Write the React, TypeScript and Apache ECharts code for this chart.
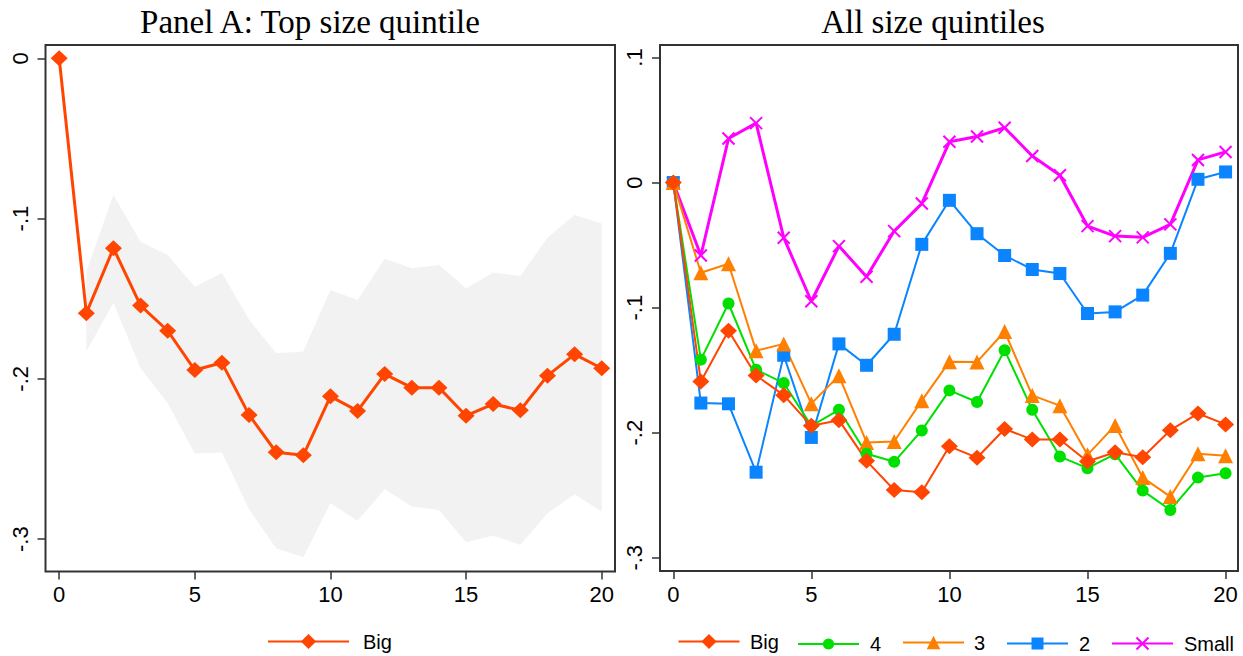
import React, { useEffect, useRef } from "react";
import * as echarts from "echarts";

// Horizons (x axis)
const horizons = [0, 1, 2, 3, 4, 5, 6, 7, 8, 9, 10, 11, 12, 13, 14, 15, 16, 17, 18, 19, 20];
const xTicks = [0, 5, 10, 15, 20];
const yTicksLeft = [0, -0.1, -0.2, -0.3];
const yTicksRight = [0.1, 0, -0.1, -0.2, -0.3];

// Panel A: top size quintile, with confidence band (band runs from horizon 1)
const bigValues = [0, -0.159, -0.1185, -0.1543, -0.170, -0.1945, -0.190, -0.2225, -0.2458, -0.2477, -0.2109, -0.220, -0.197, -0.2055, -0.2055, -0.223, -0.2157, -0.2196, -0.198, -0.1847, -0.1934];
const bandHorizons = [1, 2, 3, 4, 5, 6, 7, 8, 9, 10, 11, 12, 13, 14, 15, 16, 17, 18, 19, 20];
const bandUpper = [-0.133, -0.0853, -0.1144, -0.1227, -0.1425, -0.134, -0.163, -0.184, -0.183, -0.1446, -0.1508, -0.125, -0.131, -0.129, -0.1435, -0.1337, -0.1358, -0.112, -0.0978, -0.103];
const bandLower = [-0.183, -0.1525, -0.1934, -0.2153, -0.2465, -0.246, -0.2814, -0.3057, -0.3113, -0.2776, -0.2886, -0.2689, -0.2797, -0.2818, -0.302, -0.2978, -0.3036, -0.2839, -0.272, -0.2828];

// All size quintiles
const q4Values = [0, -0.1416, -0.0967, -0.1496, -0.1603, -0.1945, -0.1817, -0.2169, -0.2233, -0.1982, -0.1662, -0.1755, -0.1341, -0.1817, -0.2191, -0.2284, -0.2172, -0.2463, -0.2618, -0.2359, -0.2324];
const q3Values = [0, -0.0721, -0.0649, -0.1344, -0.129, -0.1768, -0.1544, -0.2078, -0.207, -0.1744, -0.1432, -0.1434, -0.1191, -0.1702, -0.1784, -0.2177, -0.1942, -0.2359, -0.2511, -0.2169, -0.2185];
const q2Values = [0, -0.1763, -0.1769, -0.2316, -0.1381, -0.2038, -0.129, -0.1461, -0.1213, -0.0494, -0.0142, -0.0409, -0.0583, -0.0695, -0.0727, -0.1047, -0.1034, -0.090, -0.0566, 0.0026, 0.0085];
const smallValues = [0, -0.0583, 0.0352, 0.0475, -0.0441, -0.0949, -0.0508, -0.0753, -0.0388, -0.0168, 0.0326, 0.0369, 0.0438, 0.0213, 0.0058, -0.0348, -0.0428, -0.0438, -0.0334, 0.0181, 0.0245];

const C_BIG = "#ff4500";
const C_Q4 = "#00e000";
const C_Q3 = "#ff8000";
const C_Q2 = "#0a84ff";
const C_SMALL = "#ff00ff";
const FRAME = "#333333";
const SANS = "Liberation Sans, Arial, sans-serif";
const SERIF = "Liberation Serif, Times New Roman, serif";

const pairs = (xs: number[], ys: number[]) => xs.map((x, i) => [x, ys[i]]);

const fmtY = (v: number) => {
  const r = Math.round(v * 10) / 10;
  if (r === 0) return "0";
  return String(r).replace("0.", ".");
};

const xAxisBase = (gridIndex: number, min: number, max: number) => ({
  type: "value",
  gridIndex,
  min,
  max,
  position: "bottom",
  axisLine: { show: false, onZero: false },
  splitLine: { show: false },
  axisTick: {
    show: true,
    length: 8,
    customValues: xTicks,
    lineStyle: { color: FRAME, width: 1.5 },
  },
  axisLabel: {
    show: true,
    customValues: xTicks,
    margin: 12,
    fontSize: 22,
    fontFamily: SANS,
    color: "#000",
  },
});

const yAxisBase = (gridIndex: number, min: number, max: number, ticks: number[]) => ({
  type: "value",
  gridIndex,
  min,
  max,
  position: "left",
  axisLine: { show: false, onZero: false },
  splitLine: { show: false },
  axisTick: {
    show: true,
    length: 8,
    customValues: ticks,
    lineStyle: { color: FRAME, width: 1.5 },
  },
  axisLabel: {
    show: true,
    customValues: ticks,
    rotate: 90,
    margin: 14.5,
    fontSize: 22,
    fontFamily: SANS,
    color: "#000",
    formatter: (v: number) => fmtY(v),
  },
});

const lineSeries = (
  name: string,
  xi: number,
  data: number[][],
  color: string,
  width: number,
  symbol: string,
  symbolSize: number | number[],
  extraItem: any = {}
) => ({
  type: "line",
  name,
  xAxisIndex: xi,
  yAxisIndex: xi,
  data,
  symbol,
  symbolSize,
  showAllSymbol: true,
  lineStyle: { color, width },
  itemStyle: { color, ...extraItem },
  z: 3,
});

const legendItem = (
  name: string,
  left: number,
  itemWidth: number,
  itemHeight: number,
  pad: number,
  label: string
) => ({
  data: [name],
  left,
  top: 641 - itemHeight / 2,
  orient: "horizontal",
  padding: 0,
  itemWidth,
  itemHeight,
  selectedMode: false,
  formatter: () => label,
  textStyle: {
    fontSize: 20,
    fontFamily: SANS,
    color: "#000",
    padding: [0, 0, 0, pad],
  },
});

const X_PATH = "path://M0,0L10,10M10,0L0,10";

export default function App() {
  const ref = useRef<HTMLDivElement>(null);

  useEffect(() => {
    if (!ref.current) return;
    const chart = echarts.init(ref.current, undefined, { renderer: "svg" });
    const bandData = bandHorizons.map((h, i) => [h, bandLower[i], bandUpper[i]]);
    const option: any = {
      animation: false,
      backgroundColor: "#ffffff",
      graphic: [
        {
          type: "text",
          x: 310,
          y: 22,
          style: {
            text: "Panel A: Top size quintile",
            fontSize: 33,
            fontFamily: SERIF,
            fill: "#000",
            align: "center",
            verticalAlign: "middle",
          },
        },
        {
          type: "text",
          x: 933,
          y: 22,
          style: {
            text: "All size quintiles",
            fontSize: 33,
            fontFamily: SERIF,
            fill: "#000",
            align: "center",
            verticalAlign: "middle",
          },
        },
      ],
      grid: [
        {
          left: 45.5,
          top: 45,
          width: 569.5,
          height: 526.5,
          show: true,
          borderColor: FRAME,
          borderWidth: 2,
          backgroundColor: "transparent",
        },
        {
          left: 660,
          top: 45,
          width: 578,
          height: 526,
          show: true,
          borderColor: FRAME,
          borderWidth: 2,
          backgroundColor: "transparent",
        },
      ],
      xAxis: [xAxisBase(0, -0.505, 20.49), xAxisBase(1, -0.48, 20.45)],
      yAxis: [
        yAxisBase(0, -0.3202, 0.0083, yTicksLeft),
        yAxisBase(1, -0.3106, 0.110, yTicksRight),
      ],
      legend: [
        legendItem("Big", 267, 81, 19, 9, "Big"),
        legendItem("Big (all)", 677.5, 61, 19, 5.5, "Big"),
        legendItem("4", 797, 61, 14, 6, "4"),
        legendItem("3", 902, 61, 17, 5, "3"),
        legendItem("2", 1006, 61, 15, 6, "2"),
        legendItem("Small", 1111, 61, 15, 6, "Small"),
      ],
      series: [
        {
          type: "custom",
          name: "ci",
          xAxisIndex: 0,
          yAxisIndex: 0,
          data: bandData,
          encode: { x: 0, y: [1, 2] },
          silent: true,
          z: 1,
          renderItem: (params: any, api: any) => {
            if (params.dataIndex !== 0) return null;
            const upperPts = bandData.map((d) => api.coord([d[0], d[2]]));
            const lowerPts = bandData.map((d) => api.coord([d[0], d[1]])).reverse();
            return {
              type: "polygon",
              shape: { points: upperPts.concat(lowerPts) },
              style: { fill: "#f2f2f2", stroke: "none" },
            };
          },
        },
        lineSeries("Big", 0, pairs(horizons, bigValues), C_BIG, 3, "diamond", [17, 16]),
        lineSeries("Small", 1, pairs(horizons, smallValues), C_SMALL, 3, X_PATH, 12, {
          borderColor: C_SMALL,
          borderWidth: 2,
        }),
        lineSeries("2", 1, pairs(horizons, q2Values), C_Q2, 2, "rect", 13),
        lineSeries("3", 1, pairs(horizons, q3Values), C_Q3, 2, "triangle", 15),
        lineSeries("4", 1, pairs(horizons, q4Values), C_Q4, 2, "circle", 12),
        lineSeries("Big (all)", 1, pairs(horizons, bigValues), C_BIG, 2, "diamond", [17, 16]),
      ],
    };
    chart.setOption(option);
    return () => chart.dispose();
  }, []);

  return (
    <div
      ref={ref}
      style={{ position: "absolute", left: 0, top: 0, width: 1243, height: 656 }}
    />
  );
}
